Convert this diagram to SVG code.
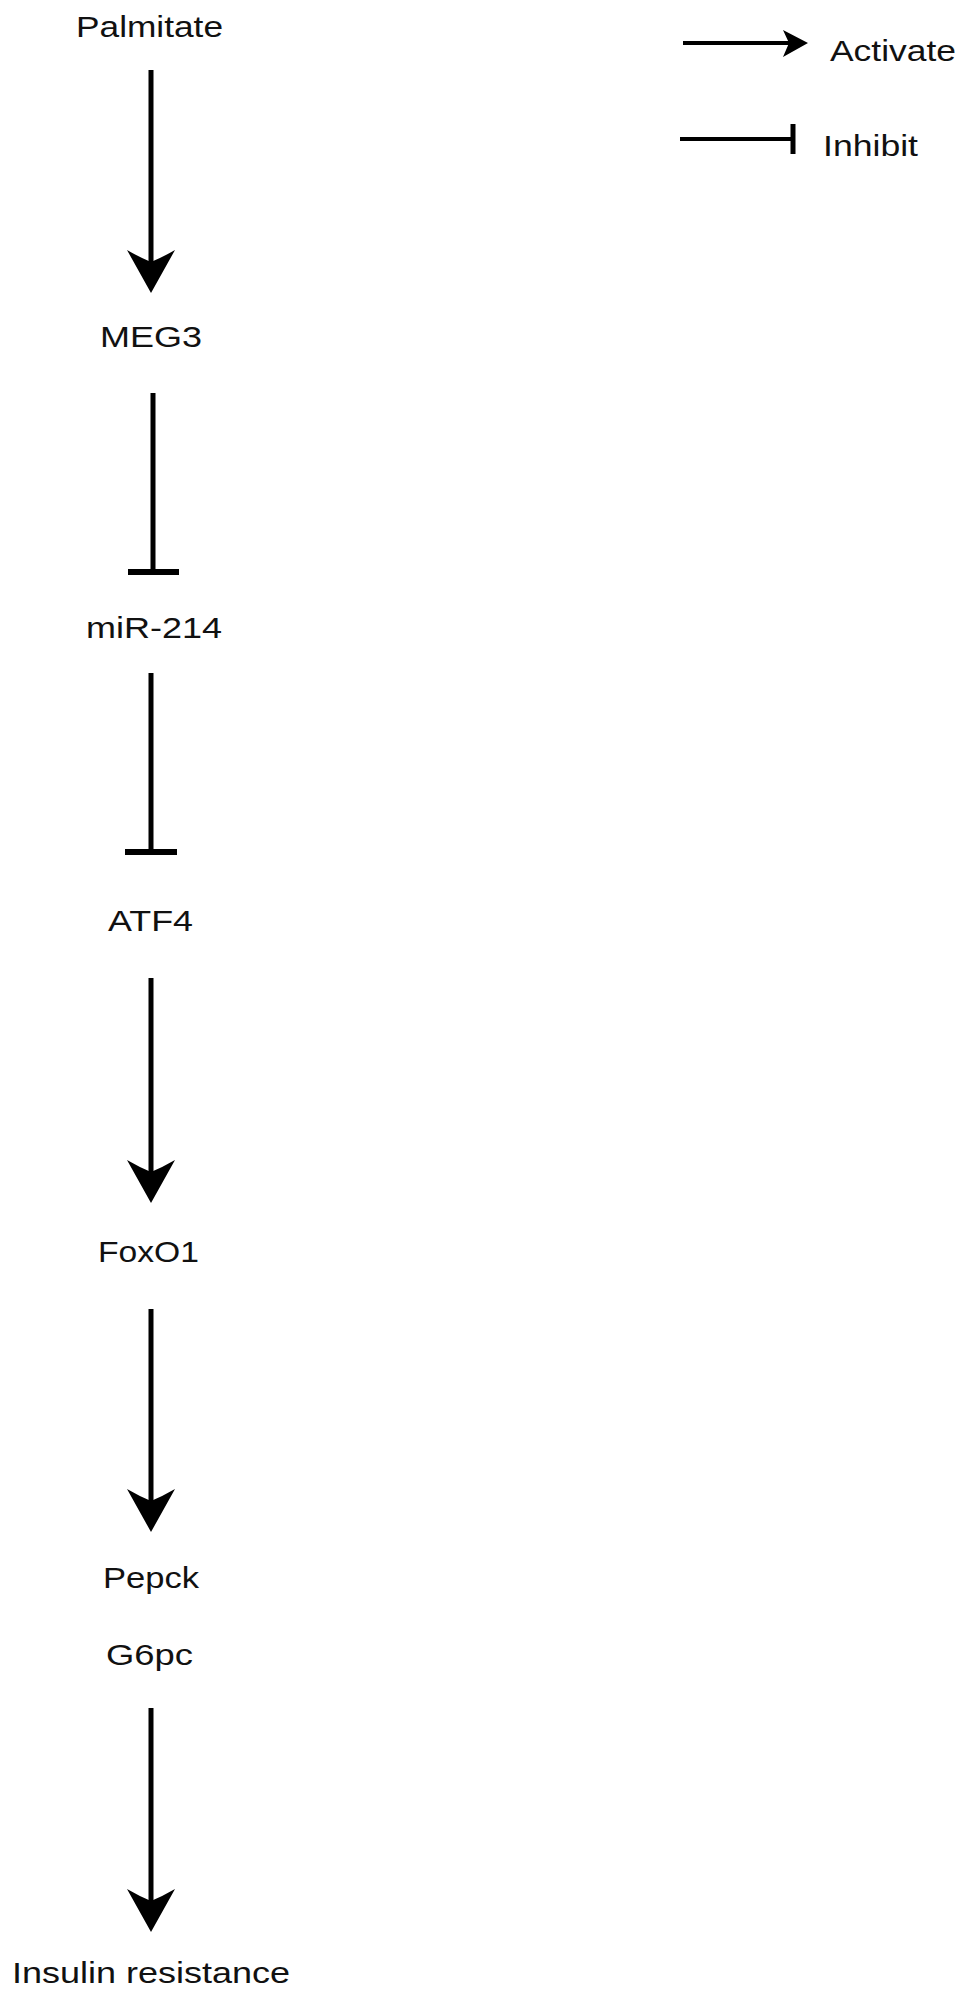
<svg xmlns="http://www.w3.org/2000/svg" width="969" height="1997" viewBox="0 0 969 1997">
<style>
text{font-family:"Liberation Sans",Arial,Helvetica,sans-serif;font-size:29px;fill:#111}
.ln{stroke:#000;stroke-width:5;fill:none}
.lg{stroke:#000;stroke-width:4;fill:none}
.bar{stroke:#000;stroke-width:6;fill:none}
.hd{fill:#000}
</style>
<defs>
<path id="head" d="M0,0 L-24,-43 Q-12,-36 0,-31 Q12,-36 24,-43 Z"/>
</defs>
<rect width="969" height="1997" fill="#fff"/>
<g id="nodes">
<g id="palmitate"><text x="76" y="37" textLength="147" lengthAdjust="spacingAndGlyphs">Palmitate</text></g>
<g id="meg3"><text x="100" y="347" textLength="102" lengthAdjust="spacingAndGlyphs">MEG3</text></g>
<g id="mir214"><text x="86" y="638" textLength="136" lengthAdjust="spacingAndGlyphs">miR-214</text></g>
<g id="atf4"><text x="108" y="931" textLength="85" lengthAdjust="spacingAndGlyphs">ATF4</text></g>
<g id="foxo1"><text x="98" y="1262" textLength="101" lengthAdjust="spacingAndGlyphs">FoxO1</text></g>
<g id="pepck"><text x="103" y="1588" textLength="96" lengthAdjust="spacingAndGlyphs">Pepck</text></g>
<g id="g6pc"><text x="106" y="1665" textLength="87" lengthAdjust="spacingAndGlyphs">G6pc</text></g>
<g id="insulin"><text x="12" y="1983" textLength="278" lengthAdjust="spacingAndGlyphs">Insulin resistance</text></g>
</g>
<g id="legend">
<line class="lg" x1="683" y1="43" x2="790" y2="43"/>
<path class="hd" d="M808,43 L783,30 L789,43 L783,57 Z"/>
<text x="830" y="61" textLength="126" lengthAdjust="spacingAndGlyphs">Activate</text>
<line class="lg" x1="680" y1="139" x2="793" y2="139"/>
<line class="lg" x1="793" y1="124" x2="793" y2="154" style="stroke-width:5"/>
<text x="823" y="156" textLength="95" lengthAdjust="spacingAndGlyphs">Inhibit</text>
</g>
<g id="connectors">
<line class="ln" x1="151" y1="70" x2="151" y2="268"/>
<use href="#head" class="hd" transform="translate(151,293)"/>
<line class="ln" x1="153" y1="393" x2="153" y2="572"/>
<line class="bar" x1="128" y1="572" x2="179" y2="572"/>
<line class="ln" x1="151" y1="673" x2="151" y2="852"/>
<line class="bar" x1="125" y1="852" x2="177" y2="852"/>
<line class="ln" x1="151" y1="978" x2="151" y2="1178"/>
<use href="#head" class="hd" transform="translate(151,1203)"/>
<line class="ln" x1="151" y1="1309" x2="151" y2="1507"/>
<use href="#head" class="hd" transform="translate(151,1532)"/>
<line class="ln" x1="151" y1="1708" x2="151" y2="1907"/>
<use href="#head" class="hd" transform="translate(151,1932)"/>
</g>
</svg>
